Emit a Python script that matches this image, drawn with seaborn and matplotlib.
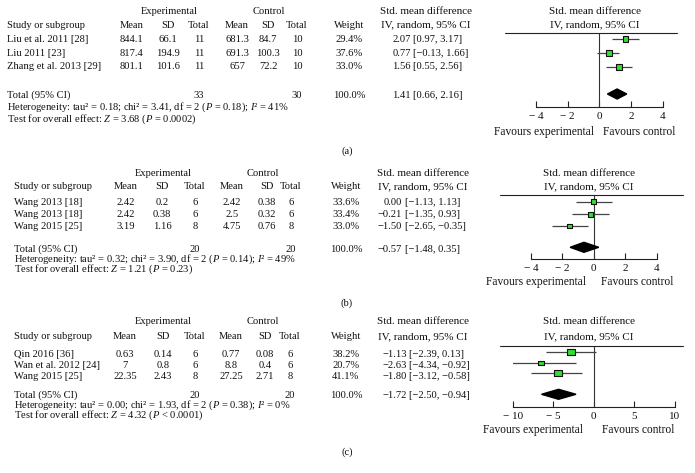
import numpy as np
import pandas as pd
import matplotlib
matplotlib.use("Agg")
import matplotlib.pyplot as plt
import seaborn as sns
from matplotlib.lines import Line2D

# ---------------- data ----------------
# panel (a)
a_studies = ["Liu et al. 2011 [28]", "Liu 2011 [23]", "Zhang et al. 2013 [29]"]
a_exp_mean = [844.1, 817.4, 801.1]
a_exp_sd = [66.1, 194.9, 101.6]
a_exp_n = [11, 11, 11]
a_ctl_mean = [681.3, 691.3, 657]
a_ctl_sd = [84.7, 100.3, 72.2]
a_ctl_n = [10, 10, 10]
a_weight = [29.4, 37.6, 33.0]
a_smd = [2.07, 0.77, 1.56]
a_lo = [0.97, -0.13, 0.55]
a_hi = [3.17, 1.66, 2.56]
a_total = [1.41, 0.66, 2.16]
a_n_total = [33, 30]
a_het = ("0.18", "3.41", "2", "0.18", "41")
a_test = ("3.68", "= 0.0002")
# positions as drawn in the graphic
a_plot_est = [1.64, 0.59, 1.23]
a_plot_lo = [0.78, -0.12, 0.43]
a_plot_hi = [2.52, 1.27, 2.03]
a_plot_total = [0.51, 1.12, 1.73]

# panel (b)
b_studies = ["Wang 2013 [18]", "Wang 2013 [18]", "Wang 2015 [25]"]
b_exp_mean = [2.42, 2.42, 3.19]
b_exp_sd = [0.2, 0.38, 1.16]
b_exp_n = [6, 6, 8]
b_ctl_mean = [2.42, 2.5, 4.75]
b_ctl_sd = [0.38, 0.32, 0.76]
b_ctl_n = [6, 6, 8]
b_weight = [33.6, 33.4, 33.0]
b_smd = [0.00, -0.21, -1.50]
b_lo = [-1.13, -1.35, -2.65]
b_hi = [1.13, 0.93, -0.35]
b_total = [-0.57, -1.48, 0.35]
b_n_total = [20, 20]
b_het = ("0.32", "3.90", "2", "0.14", "49")
b_test = ("1.21", "= 0.23")
b_plot_est = [0.00, -0.23, -1.52]
b_plot_lo = [-1.15, -1.36, -2.68]
b_plot_hi = [1.16, 0.94, -0.35]
b_plot_total = [-1.51, -0.63, 0.31]

# panel (c)
c_studies = ["Qin 2016 [36]", "Wan et al. 2012 [24]", "Wang 2015 [25]"]
c_exp_mean = [0.63, 7, 22.35]
c_exp_sd = [0.14, 0.8, 2.43]
c_exp_n = [6, 6, 8]
c_ctl_mean = [0.77, 8.8, 27.25]
c_ctl_sd = [0.08, 0.4, 2.71]
c_ctl_n = [6, 6, 8]
c_weight = [38.2, 20.7, 41.1]
c_smd = [-1.13, -2.63, -1.80]
c_lo = [-2.39, -4.34, -3.12]
c_hi = [0.13, -0.92, -0.58]
c_total = [-1.72, -2.50, -0.94]
c_n_total = [20, 20]
c_het = ("0.00", "1.93", "2", "0.38", "0")
c_test = ("4.32", "< 0.0001")
c_plot_est = [-2.78, -6.5, -4.4]
c_plot_lo = [-5.9, -10.8, -7.7]
c_plot_hi = [0.25, -2.2, -1.4]
c_plot_total = [-6.45, -4.35, -2.2]

panel_labels = ["(a)", "(b)", "(c)"]

# ---------------- style ----------------
sns.set_theme(style="white")
plt.rcParams["font.family"] = ["Liberation Serif", "DejaVu Serif"]
plt.rcParams["mathtext.fontset"] = "custom"
plt.rcParams["mathtext.it"] = "Liberation Serif:italic"
plt.rcParams["mathtext.rm"] = "Liberation Serif"

W, H = 695, 473
fig = plt.figure(figsize=(W / 100, H / 100), dpi=100)
FS = 7.6      # table text
FS_R = 8.0    # right-hand headers / CI text
FS_F = 8.3    # favours labels
TC = "#111111"


def fx(x):
    return x / W


def fy(y):
    return 1 - y / H


def txt(x, y, s, ha="left", fs=FS):
    fig.text(fx(x), fy(y), s, ha=ha, va="center", fontsize=fs, color=TC)


def fmt(v):
    return f"{v:.2f}".replace("-", "\u2212")


def num(v):
    return f"{v:g}"


panels = [
    dict(studies=a_studies, em=a_exp_mean, esd=a_exp_sd, en=a_exp_n, cm=a_ctl_mean,
         csd=a_ctl_sd, cn=a_ctl_n, w=a_weight, smd=a_smd, lo=a_lo, hi=a_hi, tot=a_total,
         ntot=a_n_total, het=a_het, test=a_test, pe=a_plot_est, pl=a_plot_lo,
         ph=a_plot_hi, pt=a_plot_total,
         L=dict(grp_y=11.7, exp_x=169, ctl_x=269, hdr_y=25, study_x=7,
                cols=[132, 168, 199, 237, 268, 297], wx=349,
                rows=[39.5, 53, 66.5], tot_y=95, het_y=107, test_y=119, lab_y=151,
                smd_x=426, est_r=411, br_l=413, plot_x=595,
                hl_y=33.3, hl_x0=505, hl_x1=677, ax_y=106.7, xlim=(-4, 4),
                px0=536, px1=662.7, ticks=[-4, -2, 0, 2, 4], fav_y=131.7,
                fav_e=544, fav_c=639, mrows=[39.3, 52.7, 66.7], dia_y=94,
                mc=1.04, asp=1.0)),
    dict(studies=b_studies, em=b_exp_mean, esd=b_exp_sd, en=b_exp_n, cm=b_ctl_mean,
         csd=b_ctl_sd, cn=b_ctl_n, w=b_weight, smd=b_smd, lo=b_lo, hi=b_hi, tot=b_total,
         ntot=b_n_total, het=b_het, test=b_test, pe=b_plot_est, pl=b_plot_lo,
         ph=b_plot_hi, pt=b_plot_total,
         L=dict(grp_y=173.3, exp_x=163, ctl_x=263, hdr_y=186.7, study_x=14,
                cols=[126, 162, 195, 232, 267, 291], wx=346,
                rows=[202.7, 214.3, 226.5], tot_y=249, het_y=259, test_y=268.8,
                lab_y=303.3, smd_x=423, est_r=402, br_l=405, plot_x=589,
                hl_y=195, hl_x0=500, hl_x1=683, ax_y=259.3, xlim=(-4, 4),
                px0=531, px1=656.7, ticks=[-4, -2, 0, 2, 4], fav_y=281.7,
                fav_e=536, fav_c=637, mrows=[201.7, 214.3, 226], dia_y=247.3,
                mc=0.88, asp=0.9)),
    dict(studies=c_studies, em=c_exp_mean, esd=c_exp_sd, en=c_exp_n, cm=c_ctl_mean,
         csd=c_ctl_sd, cn=c_ctl_n, w=c_weight, smd=c_smd, lo=c_lo, hi=c_hi, tot=c_total,
         ntot=c_n_total, het=c_het, test=c_test, pe=c_plot_est, pl=c_plot_lo,
         ph=c_plot_hi, pt=c_plot_total,
         L=dict(grp_y=321.7, exp_x=163.7, ctl_x=263, hdr_y=336.7, study_x=14,
                cols=[125, 163, 195, 231, 265, 290], wx=346,
                rows=[354, 365, 376.5], tot_y=395.6, het_y=405.3, test_y=414.8,
                lab_y=451.7, smd_x=423, est_r=407, br_l=409, plot_x=589,
                hl_y=345.7, hl_x0=500, hl_x1=683, ax_y=406.7, xlim=(-10, 10),
                px0=512.7, px1=675, ticks=[-10, -5, 0, 5, 10], fav_y=430,
                fav_e=533, fav_c=638, mrows=[351.7, 362.7, 373.3], dia_y=394.3,
                mc=1.32, asp=0.7)),
]

for lab, P in zip(panel_labels, panels):
    L = P["L"]
    # group headers
    txt(L["exp_x"], L["grp_y"], "Experimental", ha="center")
    txt(L["ctl_x"], L["grp_y"], "Control", ha="center")
    txt(L["smd_x"], L["grp_y"], "Std. mean difference", ha="center", fs=FS_R)
    txt(L["plot_x"], L["grp_y"], "Std. mean difference", ha="center", fs=FS_R)
    # column headers
    txt(L["study_x"], L["hdr_y"], "Study or subgroup")
    for cx, h in zip(L["cols"], ["Mean", "SD", "Total", "Mean", "SD", "Total"]):
        txt(cx, L["hdr_y"], h, ha="center")
    txt(L["wx"], L["hdr_y"], "Weight", ha="center")
    txt(L["smd_x"], L["hdr_y"], "IV, random, 95% CI", ha="center", fs=FS_R)
    txt(L["plot_x"], L["hdr_y"], "IV, random, 95% CI", ha="center", fs=FS_R)
    # study rows
    for i, s in enumerate(P["studies"]):
        y = L["rows"][i]
        txt(L["study_x"], y, s)
        vals = [num(P["em"][i]), num(P["esd"][i]), str(P["en"][i]),
                num(P["cm"][i]), num(P["csd"][i]), str(P["cn"][i])]
        for cx, v in zip(L["cols"], vals):
            txt(cx, y, v, ha="center")
        txt(L["wx"], y, f"{P['w'][i]:.1f}%", ha="center")
        txt(L["est_r"], y, fmt(P["smd"][i]), ha="right")
        txt(L["br_l"], y, f"[{fmt(P['lo'][i])}, {fmt(P['hi'][i])}]")
    # total row
    y = L["tot_y"]
    txt(L["study_x"], y, "Total (95% CI)")
    txt(L["cols"][2], y, str(P["ntot"][0]), ha="center")
    txt(L["cols"][5], y, str(P["ntot"][1]), ha="center")
    txt(L["wx"], y, "100.0%", ha="center")
    txt(L["est_r"], y, fmt(P["tot"][0]), ha="right")
    txt(L["br_l"], y, f"[{fmt(P['tot'][1])}, {fmt(P['tot'][2])}]")
    tau, chi, df, p, i2 = P["het"]
    txt(L["study_x"], L["het_y"],
        f"Heterogeneity: tau\u00b2 = {tau}; chi\u00b2 = {chi}, df = {df} ($P$ = {p}); $I$\u00b2 = {i2}%")
    z, pz = P["test"]
    txt(L["study_x"], L["test_y"], f"Test for overall effect: $Z$ = {z} ($P$ {pz})")
    txt(347, L["lab_y"], lab, ha="center")

    # header line
    fig.add_artist(Line2D([fx(L["hl_x0"]), fx(L["hl_x1"])], [fy(L["hl_y"])] * 2,
                          color="#222222", lw=0.8))

    # forest axes: y data coordinates = pixel rows
    ax = fig.add_axes([fx(L["px0"]), fy(L["ax_y"]), (L["px1"] - L["px0"]) / W,
                       (L["ax_y"] - L["hl_y"]) / H])
    ax.set_xlim(*L["xlim"])
    ax.set_ylim(L["ax_y"], L["hl_y"])
    ax.patch.set_alpha(0)
    for sp in ["left", "right", "top"]:
        ax.spines[sp].set_visible(False)
    ax.spines["bottom"].set_color("#222222")
    ax.spines["bottom"].set_linewidth(0.8)
    ax.set_xticks(L["ticks"])
    ax.set_xticklabels([f"{t:g}".replace("-", "\u2212 ") for t in L["ticks"]])
    ax.set_yticks([])
    ax.tick_params(axis="x", direction="in", length=4, width=0.8, color="#222222",
                   labelsize=FS_R, labelcolor=TC, pad=3.5, bottom=True)
    ax.axvline(0, color="#333333", lw=0.8)

    df_rows = pd.DataFrame({"est": P["pe"], "lo": P["pl"], "hi": P["ph"],
                            "y": L["mrows"], "w": P["w"]})
    ax.hlines(df_rows["y"], df_rows["lo"], df_rows["hi"], color="#444444", lw=0.9)
    wpx = L["mc"] * np.sqrt(df_rows["w"].to_numpy())
    asp = L["asp"]
    verts = [(-0.5, -0.5 * asp), (0.5, -0.5 * asp), (0.5, 0.5 * asp),
             (-0.5, 0.5 * asp), (-0.5, -0.5 * asp)]
    sns.scatterplot(data=df_rows, x="est", y="y", ax=ax, marker=verts,
                    s=(wpx / 1.389) ** 2, color="#33dd33", edgecolor="#111111",
                    linewidth=0.8, zorder=3, legend=False)
    lo_t, est_t, hi_t = P["pt"]
    yc = L["dia_y"]
    ax.fill([lo_t, est_t, hi_t, est_t], [yc, yc - 5, yc, yc + 5], color="black",
            zorder=3)
    ax.set_xlabel("")
    ax.set_ylabel("")

    txt(L["fav_e"], L["fav_y"], "Favours experimental", ha="center", fs=FS_F)
    txt(L["fav_c"], L["fav_y"], "Favours control", ha="center", fs=FS_F)

fig.savefig("out.png", dpi=100)
